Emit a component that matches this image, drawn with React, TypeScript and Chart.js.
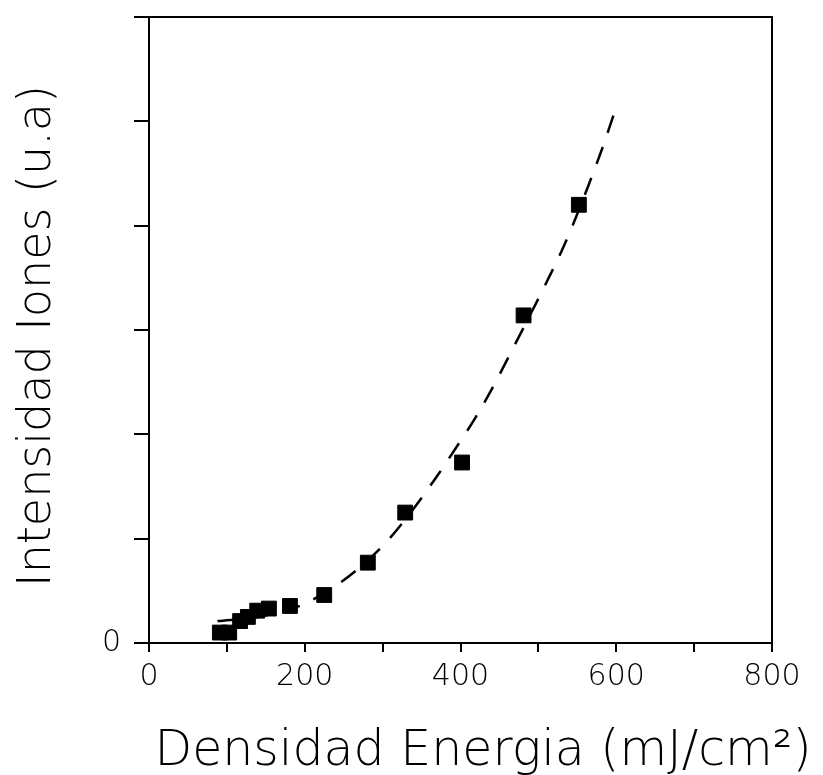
import React, { useEffect, useRef } from "react";
import { Chart, registerables } from "chart.js";

Chart.register(...registerables);

// Measured points: energy density (mJ/cm²) vs ion intensity (a.u.)
const pointEnergy = [91, 103, 117, 127, 139, 154, 181, 225, 281, 329, 402, 481, 552];
const pointIntensity = [0.1, 0.1, 0.21, 0.25, 0.31, 0.33, 0.355, 0.46, 0.77, 1.25, 1.73, 3.14, 4.2];

// Dashed fit curve
const fitEnergy = [88, 140, 195, 240, 270, 305, 340, 370, 395, 420, 445, 465, 510, 530, 545, 565, 582, 597];
const fitIntensity = [0.21, 0.25, 0.36, 0.55, 0.72, 0.97, 1.29, 1.6, 1.88, 2.17, 2.5, 2.79, 3.45, 3.76, 4.02, 4.4, 4.74, 5.07];

const xLabeled = [0, 200, 400, 600, 800];
const yLabeled = [0];

const X_TITLE = "Densidad Energia (mJ/cm²)";
const Y_TITLE = "Intensidad Iones (u.a)";

const FONT = '"DejaVu Sans", "Liberation Sans", sans-serif';

const decor = {
  id: "decor",
  afterDraw(chart: any) {
    const { ctx, chartArea } = chart;
    const { left, top, right, bottom } = chartArea;
    ctx.save();
    ctx.strokeStyle = "#000";
    ctx.lineWidth = 2;
    ctx.beginPath();
    ctx.moveTo(left - 1, top);
    ctx.lineTo(right, top);
    ctx.lineTo(right, bottom);
    ctx.stroke();

    ctx.fillStyle = "#000";
    ctx.textAlign = "center";
    ctx.textBaseline = "alphabetic";
    ctx.font = `200 49px ${FONT}`;
    ctx.fillText(X_TITLE, 483, 765);

    ctx.font = `200 46px ${FONT}`;
    ctx.translate(50, 336);
    ctx.rotate(-Math.PI / 2);
    ctx.fillText(Y_TITLE, 0, 0);
    ctx.restore();
  },
};

export default function App() {
  const ref = useRef<HTMLCanvasElement | null>(null);

  useEffect(() => {
    document.body.style.margin = "0";
    const canvas = ref.current;
    if (!canvas) return;
    const chart = new Chart(canvas, {
      type: "scatter",
      data: {
        datasets: [
          {
            type: "scatter",
            label: "Datos",
            data: pointEnergy.map((x, i) => ({ x, y: pointIntensity[i] })),
            pointStyle: "rect",
            pointRadius: 10.5,
            pointHoverRadius: 10.5,
            backgroundColor: "#000",
            borderColor: "#000",
            borderWidth: 1,
            order: 0,
          },
          {
            type: "line",
            label: "Ajuste",
            data: fitEnergy.map((x, i) => ({ x, y: fitIntensity[i] })),
            showLine: true,
            pointRadius: 0,
            borderColor: "#000",
            borderWidth: 2.5,
            borderDash: [18, 15],
            cubicInterpolationMode: "monotone",
            fill: false,
            order: 1,
          } as any,
        ],
      },
      options: {
        responsive: false,
        animation: false,
        devicePixelRatio: 1,
        layout: { padding: { top: 17, right: 51, left: 0, bottom: 0 } },
        plugins: {
          legend: { display: false },
          tooltip: { enabled: false },
          title: { display: false },
        },
        scales: {
          x: {
            type: "linear",
            min: 0,
            max: 800,
            afterFit(scale: any) {
              scale.height = 132;
              scale.paddingLeft = 0;
              scale.paddingRight = 0;
            },
            ticks: {
              stepSize: 100,
              autoSkip: false,
              maxRotation: 0,
              padding: 7,
              color: "#000",
              font: { family: FONT, size: 30, weight: "200" as any },
              callback: (v: any) => (xLabeled.includes(Number(v)) ? String(v) : ""),
            },
            grid: {
              display: true,
              drawOnChartArea: false,
              drawTicks: true,
              tickLength: 9,
              color: "#000",
              lineWidth: 2,
            },
            border: { display: true, color: "#000", width: 2 },
          },
          y: {
            type: "linear",
            min: 0,
            max: 6,
            afterFit(scale: any) {
              scale.width = 149;
              scale.paddingTop = 0;
              scale.paddingBottom = 0;
            },
            ticks: {
              stepSize: 1,
              autoSkip: false,
              padding: 13,
              color: "#000",
              font: { family: FONT, size: 30, weight: "200" as any },
              callback: (v: any) => (yLabeled.includes(Number(v)) ? String(v) : ""),
            },
            grid: {
              display: true,
              drawOnChartArea: false,
              drawTicks: true,
              tickLength: 15,
              color: "#000",
              lineWidth: 2,
            },
            border: { display: true, color: "#000", width: 2 },
          },
        },
      },
      plugins: [decor],
    });
    return () => chart.destroy();
  }, []);

  return (
    <div style={{ width: 823, height: 775, background: "#fff" }}>
      <canvas ref={ref} width={823} height={775} style={{ display: "block" }} />
    </div>
  );
}
